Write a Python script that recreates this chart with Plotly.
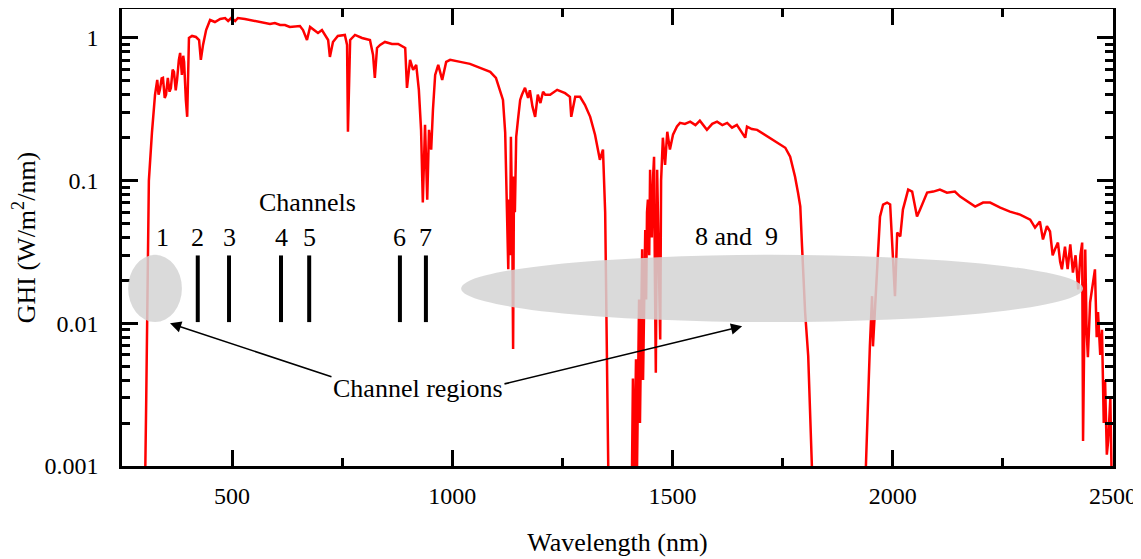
import math
import plotly.graph_objects as go

# ---------------- data ----------------
wavelength_nm = [
    300, 303, 305, 307, 311, 318, 325, 330, 333, 336, 340, 343, 347, 350, 354, 358, 361, 365, 368, 372, 375, 379, 382, 386, 389, 391, 393, 395, 398,
    400, 402, 409, 418, 425, 429, 434, 441, 450, 461, 473, 484, 491, 498, 507, 513, 529, 541, 554, 563,
    586, 597, 609, 620, 631, 654, 661, 670, 677, 695, 704, 718, 722, 729, 740, 756, 761, 763, 768, 779,
    795, 813, 820, 824, 829, 836, 847, 863, 877, 893, 897, 904, 911, 918, 924, 929, 933, 938, 943, 947,
    952, 956, 961, 968, 977, 986, 995, 1018, 1040, 1063, 1086, 1099, 1108, 1115, 1120, 1122, 1124, 1127, 1129, 1131, 1133,
    1136, 1138, 1140, 1142, 1145, 1149, 1154, 1158, 1163, 1165, 1172, 1176, 1182, 1188, 1194, 1200, 1206, 1211, 1222, 1238, 1256,
    1267, 1270, 1279, 1290, 1301, 1313, 1324, 1335, 1342, 1347, 1349, 1351, 1354, 1358, 1405,
    1408, 1410, 1413, 1417, 1419, 1421, 1424, 1426, 1429, 1431, 1433, 1436, 1438, 1440, 1442, 1444, 1447, 1449, 1451, 1453, 1456, 1458, 1460, 1462, 1465, 1467, 1469, 1472, 1474,
    1478, 1483, 1488, 1494, 1501, 1510, 1517, 1528, 1540, 1552, 1562, 1578, 1590, 1601, 1613, 1624, 1635, 1646, 1665, 1669, 1680, 1692, 1704, 1715, 1726, 1737, 1746, 1756, 1767,
    1778, 1785, 1790, 1794, 1801, 1808, 1812, 1817, 1822, 1935,
    1939, 1948, 1953, 1955, 1964, 1971, 1978, 1987, 1994, 2001, 2005, 2010, 2017, 2023, 2035, 2044, 2055, 2062, 2078, 2092,
    2107, 2123, 2141, 2153, 2169, 2187, 2205, 2221, 2244, 2266, 2289, 2312, 2323, 2334, 2341, 2350, 2357, 2363, 2368, 2375, 2380, 2384, 2391,
    2397, 2403, 2409, 2415, 2421, 2426, 2430, 2432, 2435, 2437, 2440, 2443, 2448, 2453, 2459, 2463, 2466, 2471, 2475, 2479, 2482, 2486, 2489, 2494, 2498,
]
ghi = [
    0.0005, 0.001, 0.0029, 0.0103, 0.1, 0.217, 0.4, 0.508, 0.40, 0.433, 0.52, 0.525, 0.38, 0.4, 0.525, 0.42, 0.447, 0.60, 0.578, 0.43, 0.508, 0.70, 0.785, 0.551, 0.75, 0.68, 0.45, 0.368, 0.28,
    0.702, 1.0, 1.033, 1.016, 0.968, 0.702, 0.894, 1.137, 1.336, 1.294, 1.358, 1.38, 1.315, 1.38, 1.315, 1.38, 1.358, 1.336, 1.315, 1.294,
    1.253, 1.273, 1.233, 1.233, 1.194, 1.213, 1.137, 0.968, 1.194, 1.084, 1.137, 0.968, 0.736, 0.938, 1.033, 1.05, 0.894, 0.22, 0.968, 1.05,
    1.0, 0.968, 0.76, 0.525, 0.851, 0.894, 0.938, 0.908, 0.908, 0.851, 0.447, 0.702, 0.598, 0.648, 0.433, 0.227, 0.0702, 0.246, 0.0736, 0.227,
    0.165, 0.314, 0.551, 0.648, 0.508, 0.68, 0.702, 0.68, 0.658, 0.617, 0.578, 0.525, 0.433, 0.368, 0.217, 0.129, 0.0736, 0.0239, 0.0736, 0.03, 0.203,
    0.05, 0.0066, 0.107, 0.06, 0.203, 0.267, 0.368, 0.4, 0.433, 0.447, 0.38, 0.43, 0.33, 0.28, 0.4, 0.35, 0.42, 0.4, 0.4, 0.433, 0.41,
    0.387, 0.28, 0.387, 0.387, 0.34, 0.28, 0.21, 0.14, 0.165, 0.06, 0.02, 0.003, 0.001, 0.0003, 0.0003,
    0.00098, 0.0041, 0.0008, 0.0056, 0.0008, 0.003, 0.0147, 0.002, 0.012, 0.033, 0.004, 0.02, 0.045, 0.0147, 0.06, 0.0736, 0.03, 0.119, 0.05, 0.04, 0.11, 0.147, 0.02, 0.0045, 0.119, 0.06, 0.033, 0.0077, 0.1,
    0.2, 0.129, 0.22, 0.165, 0.21, 0.24, 0.254, 0.25, 0.259, 0.245, 0.263, 0.227, 0.25, 0.259, 0.245, 0.254, 0.235, 0.246, 0.2, 0.239, 0.23, 0.227, 0.215, 0.203, 0.195, 0.184, 0.178, 0.17, 0.147,
    0.107, 0.082, 0.066, 0.0345, 0.0119, 0.0059, 0.0025, 0.001, 0.0003, 0.0003,
    0.001, 0.0069, 0.0155, 0.0069, 0.0251, 0.056, 0.068, 0.0702, 0.068, 0.028, 0.0155, 0.0433, 0.0406, 0.0627, 0.0865, 0.0838, 0.056, 0.0627, 0.0824, 0.0838,
    0.0865, 0.0824, 0.0838, 0.0773, 0.0713, 0.0658, 0.0702, 0.0702, 0.0648, 0.0607, 0.0578, 0.0533, 0.0469, 0.0517, 0.0387, 0.048, 0.044, 0.03, 0.0329, 0.0368, 0.027, 0.0239, 0.0345,
    0.024, 0.0357, 0.0227, 0.03, 0.0173, 0.03, 0.0368, 0.0015, 0.02, 0.0329, 0.009, 0.0058, 0.014, 0.0173, 0.0239, 0.008, 0.012, 0.006, 0.009, 0.002, 0.004, 0.0012, 0.0015, 0.003, 0.0005,
]

channel_nm = [422, 493, 611, 675, 881, 940]
channel_low = 0.0102
channel_high = 0.0299

channel_label_nm = [341, 422, 493, 611, 675, 881, 940]
channel_labels = ["1", "2", "3", "4", "5", "6", "7"]
channel_label_level = 0.040

region1_nm = [264, 386]
region2_nm = [1020, 2432]
region_ghi = [0.0102, 0.0302]

x_ticks = [500, 1000, 1500, 2000, 2500]
x_minor = [750, 1250, 1750, 2250]
y_ticks = [0.001, 0.01, 0.1, 1]
y_tick_text = ["0.001", "0.01", "0.1", "1"]

FONT = "Liberation Serif, Times New Roman, serif"
TXT = 26

fig = go.Figure()

fig.add_trace(go.Scatter(
    x=wavelength_nm, y=ghi, mode="lines",
    line=dict(color="#ff0000", width=2.5),
    showlegend=False, hoverinfo="skip",
))

bx, by = [], []
for c in channel_nm:
    bx += [c, c, None]
    by += [channel_low, channel_high, None]
fig.add_trace(go.Scatter(
    x=bx, y=by, mode="lines",
    line=dict(color="black", width=4),
    showlegend=False, hoverinfo="skip",
))

# shaded channel regions (ellipses)
for reg in (region1_nm, region2_nm):
    fig.add_shape(
        type="circle", xref="x", yref="y",
        x0=reg[0], x1=reg[1], y0=region_ghi[0], y1=region_ghi[1],
        fillcolor="rgb(212,212,212)", opacity=0.85,
        line=dict(width=0), layer="above",
    )

# labels
for xv, t in zip(channel_label_nm, channel_labels):
    fig.add_annotation(x=xv, y=math.log10(channel_label_level), text=t,
                       showarrow=False, font=dict(family=FONT, size=TXT, color="black"))

fig.add_annotation(x=672, y=math.log10(0.070), text="Channels", showarrow=False,
                   font=dict(family=FONT, size=TXT, color="black"))
fig.add_annotation(x=1646, y=math.log10(0.0405), text="8 and  9", showarrow=False,
                   font=dict(family=FONT, size=TXT, color="black"))
fig.add_annotation(x=922, y=math.log10(0.00347), text="Channel regions", showarrow=False,
                   font=dict(family=FONT, size=TXT, color="black"))

# arrows
arrows = [((359, 0.0100), (729, 0.00419)), ((1658, 0.00953), (1115, 0.00374))]
for (hx, hy), (tx, ty) in arrows:
    fig.add_annotation(
        x=hx, y=math.log10(hy), ax=tx, ay=math.log10(ty),
        xref="x", yref="y", axref="x", ayref="y",
        text="", showarrow=True, arrowhead=2, arrowsize=1.4, arrowwidth=1.6,
        arrowcolor="black", standoff=0, startstandoff=0,
    )

axis_common = dict(
    showline=True, linecolor="black", linewidth=2.5, mirror="ticks",
    ticks="inside", tickcolor="black", tickwidth=2.5, ticklen=16,
    showgrid=False, zeroline=False, automargin=False,
    tickfont=dict(family=FONT, size=24, color="black"),
)

fig.update_xaxes(
    range=[250, 2500], tickvals=x_ticks, ticklabelstandoff=6,
    minor=dict(ticks="inside", ticklen=8, tickwidth=2.5, tickcolor="black",
               tickvals=x_minor, showgrid=False),
    title=dict(text="Wavelength (nm)", font=dict(family=FONT, size=TXT, color="black"), standoff=26),
    **axis_common,
)
fig.update_yaxes(
    type="log", range=[-3, 0.203], tickvals=y_ticks, ticktext=y_tick_text, ticklabelstandoff=16,
    minor=dict(ticks="inside", ticklen=8, tickwidth=2.5, tickcolor="black", dtick="D1", showgrid=False),
    title=dict(text="GHI (W/m<sup>2</sup>/nm)", font=dict(family=FONT, size=TXT, color="black"), standoff=8),
    **axis_common,
)

# page body has an 8px default margin, so the figure is offset by 8px
fig.update_layout(
    width=1133, height=551,
    margin=dict(l=114, r=28, t=1, b=93),
    plot_bgcolor="white", paper_bgcolor="white",
    showlegend=False,
)

fig.write_html("out.html")
